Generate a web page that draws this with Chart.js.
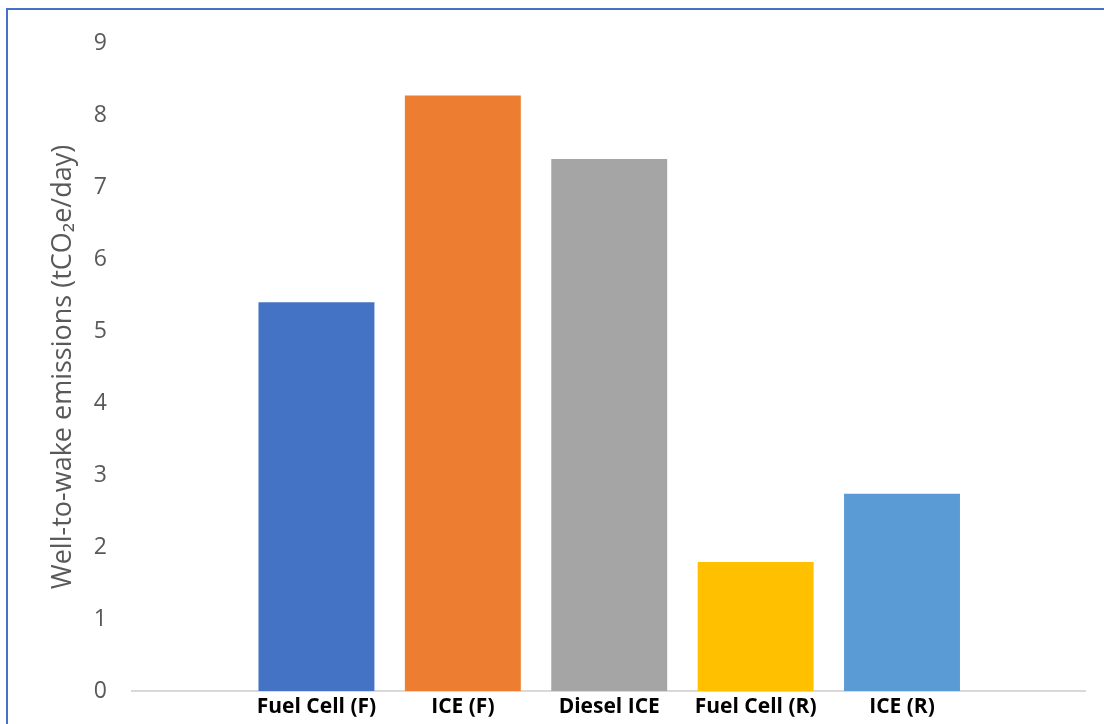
<!DOCTYPE html>
<html>
<head>
<meta charset="utf-8">
<title>Well-to-wake emissions</title>
<script src="https://cdn.jsdelivr.net/npm/chart.js@4/dist/chart.umd.min.js"></script>
<style>
    body { margin: 0; background: #fff; overflow: hidden; }
    .frame {
        position: absolute; left: 6px; top: 8px; width: 1200px; height: 800px;
        border-top: 2px solid #4472C4; border-left: 2px solid #4472C4;
    }
    #bar_chart { position: absolute; left: 0; top: 0; }
</style>
</head>
<body>
<div class="frame"></div>
<canvas id="bar_chart" width="1104" height="724"></canvas>
<script>
var categorias = ["Fuel Cell (F)", "ICE (F)", "Diesel ICE", "Fuel Cell (R)", "ICE (R)"];
var emissoes = [5.4, 8.27, 7.39, 1.79, 2.74];
var cores = ["#4472C4", "#ED7D31", "#A5A5A5", "#FFC000", "#5B9BD5"];
var yTicks = [0, 1, 2, 3, 4, 5, 6, 7, 8, 9];

function getChartJs() {
    var pontos = categorias.map(function (c, i) {
        return { x: i, y: emissoes[i] };
    });

    return {
        type: 'bar',
        data: {
            datasets: [{
                label: "Well-to-wake emissions",
                data: pontos,
                backgroundColor: cores,
                borderWidth: 0,
                categoryPercentage: 1,
                barPercentage: 0.792
            }]
        },
        options: {
            responsive: false,
            animation: false,
            layout: { padding: { left: 0, top: 43, right: 19, bottom: 0 } },
            plugins: { legend: { display: false }, tooltip: { enabled: false } },
            scales: {
                x: {
                    type: 'linear',
                    offset: false,
                    min: -1.26,
                    max: 5.25,
                    grid: { display: false, offset: false, drawTicks: false },
                    border: { display: true, color: '#D9D9D9', width: 2 },
                    afterBuildTicks: function (axis) {
                        axis.ticks = categorias.map(function (c, i) { return { value: i }; });
                    },
                    afterFit: function (axis) {
                        axis.height = 33;
                        axis.paddingLeft = 0;
                        axis.paddingRight = 0;
                    },
                    ticks: {
                        autoSkip: false,
                        maxRotation: 0,
                        padding: 3,
                        color: '#000',
                        font: { family: 'Open Sans', size: 21, weight: 'bold' },
                        callback: function (v) { return categorias[v]; }
                    }
                },
                y: {
                    min: 0,
                    max: 9,
                    grid: { display: false, drawTicks: false },
                    border: { display: false },
                    afterBuildTicks: function (axis) {
                        axis.ticks = yTicks.map(function (t) { return { value: t }; });
                    },
                    afterFit: function (axis) {
                        axis.width = 132;
                        axis.paddingTop = 0;
                        axis.paddingBottom = 0;
                    },
                    ticks: {
                        padding: 25,
                        color: '#595959',
                        font: { family: 'Open Sans', size: 23 }
                    },
                    title: {
                        display: true,
                        text: 'Well-to-wake emissions (tCO\u2082e/day)',
                        color: '#595959',
                        padding: { top: 47, bottom: 0 },
                        font: { family: 'Open Sans', size: 27 }
                    }
                }
            }
        }
    };
}

new Chart(document.getElementById("bar_chart").getContext("2d"), getChartJs());
</script>
</body>
</html>
